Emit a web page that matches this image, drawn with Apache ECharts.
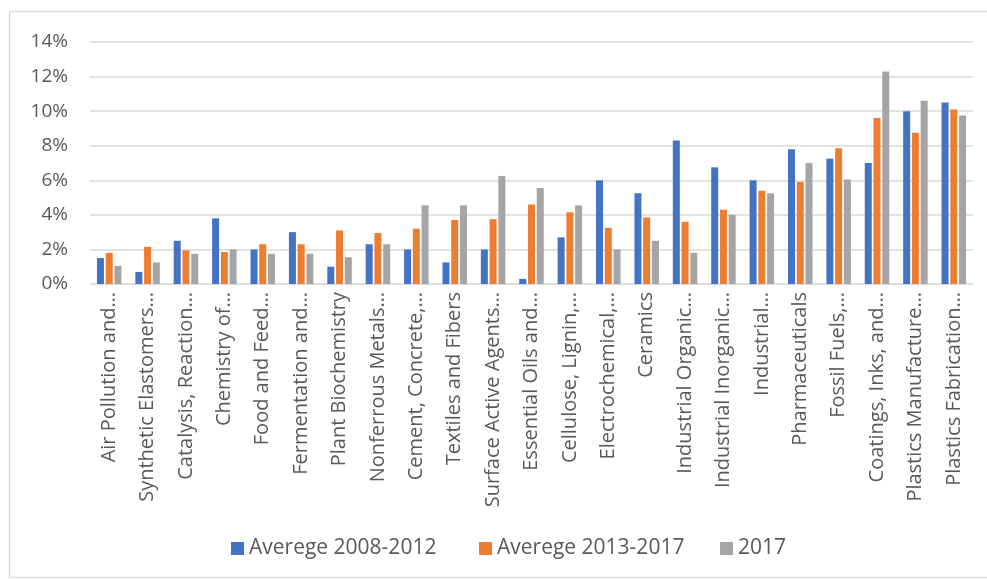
<!DOCTYPE html>
<html>
<head>
<meta charset="utf-8">
<script src="https://cdn.jsdelivr.net/npm/echarts@6/dist/echarts.min.js"></script>
<style>
  html, body { margin: 0; padding: 0; background: #fff; }
  #chart { width: 987px; height: 580px; }
</style>
</head>
<body>
<div id="chart"></div>
<script>
  let categories = [
    'Air Pollution and…', 'Synthetic Elastomers…', 'Catalysis, Reaction…', 'Chemistry of…',
    'Food and Feed…', 'Fermentation and…', 'Plant Biochemistry', 'Nonferrous Metals…',
    'Cement, Concrete,…', 'Textiles and Fibers', 'Surface Active Agents…', 'Essential Oils and…',
    'Cellulose, Lignin,…', 'Electrochemical,…', 'Ceramics', 'Industrial Organic…',
    'Industrial Inorganic…', 'Industrial…', 'Pharmaceuticals', 'Fossil Fuels,…',
    'Coatings, Inks, and…', 'Plastics Manufacture…', 'Plastics Fabrication…'
  ]
  // values in %
  let avg0812 = [1.5, 0.7, 2.5, 3.8, 2.0, 3.0, 1.0, 2.3, 2.0, 1.25, 2.0, 0.3,
                 2.7, 6.0, 5.25, 8.3, 6.75, 6.0, 7.8, 7.25, 7.0, 10.0, 10.5]
  let avg1317 = [1.8, 2.15, 1.95, 1.85, 2.3, 2.3, 3.1, 2.95, 3.2, 3.7, 3.75, 4.6,
                 4.15, 3.25, 3.85, 3.6, 4.3, 5.4, 5.9, 7.85, 9.6, 8.75, 10.1]
  let y2017 = [1.05, 1.25, 1.75, 2.0, 1.75, 1.75, 1.55, 2.3, 4.55, 4.55, 6.25, 5.55,
               4.55, 2.0, 2.5, 1.8, 4.0, 5.25, 7.0, 6.05, 12.3, 10.6, 9.75]
  let seriesNames = ['Averege 2008-2012', 'Averege 2013-2017', '2017']
  let colors = ['#4472C4', '#ED7D31', '#A5A5A5']
  let textColor = '#595959'
  let fontFamily = '"Open Sans", sans-serif'

  let chart = echarts.init(document.getElementById('chart'))
  let data = [avg0812, avg1317, y2017]
  let series = []
  for (let i = 0; i < data.length; i++) {
    series.push({
      name: seriesNames[i],
      type: 'bar',
      barWidth: 7,
      barGap: '25%',
      itemStyle: { color: colors[i] },
      data: data[i]
    })
  }

  // excel puts legend entries in uneven columns, so one legend per entry
  let legendLeft = [226, 474, 715]
  let legends = []
  for (let i = 0; i < seriesNames.length; i++) {
    legends.push({
      bottom: 16,
      left: legendLeft[i],
      itemWidth: 13,
      itemHeight: 13,
      itemGap: 0,
      icon: 'rect',
      textStyle: { color: textColor, fontSize: 21, fontFamily: fontFamily },
      data: [seriesNames[i]]
    })
  }

  let option = {
    backgroundColor: '#fff',
    animation: false,
    color: colors,
    textStyle: { fontFamily: fontFamily },
    graphic: [{
      type: 'rect',
      shape: { x: 9.5, y: 11.5, width: 990, height: 566 },
      style: { fill: 'none', stroke: '#d9d9d9', lineWidth: 1.5 },
      silent: true
    }],
    legend: legends,
    grid: {
      left: 90,
      right: 14,
      top: 42,
      bottom: 296
    },
    xAxis: {
      type: 'category',
      data: categories,
      axisLine: { lineStyle: { color: '#d9d9d9', width: 1 } },
      axisTick: { show: false },
      axisLabel: {
        interval: 0,
        rotate: 90,
        margin: 8,
        color: textColor,
        fontSize: 20,
        fontFamily: fontFamily
      }
    },
    yAxis: {
      type: 'value',
      min: 0,
      max: 14,
      interval: 2,
      axisLine: { show: false },
      axisTick: { show: false },
      axisLabel: {
        formatter: '{value}%',
        color: textColor,
        fontSize: 19,
        margin: 22,
        fontFamily: fontFamily
      },
      splitLine: { lineStyle: { color: '#d9d9d9', width: 1.5 } }
    },
    series: series
  }
  chart.setOption(option)
</script>
</body>
</html>
